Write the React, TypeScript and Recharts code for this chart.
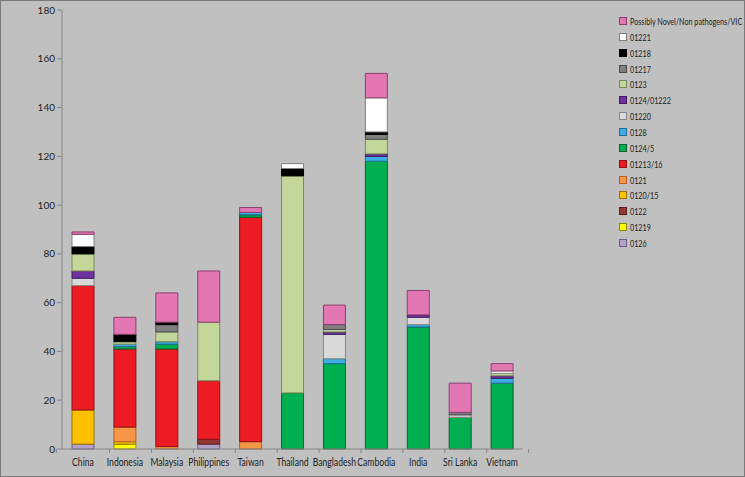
import { BarChart, Bar, XAxis, YAxis, Legend } from "recharts";

const countries = ["China", "Indonesia", "Malaysia", "Philippines", "Taiwan", "Thailand", "Bangladesh", "Cambodia", "India", "Sri Lanka", "Vietnam"];

// series listed bottom of stack -> top of stack
const seriesNames = ["0126", "01219", "0122", "0120/15", "0121", "01213/16", "0124/5", "0128", "01220", "0124/01222", "0123", "01217", "01218", "01221", "Possibly Novel/Non pathogens/VIC"];

const s0126 = [2, 0, 0, 2, 0, 0, 0, 0, 0, 0, 0];
const s01219 = [0, 2, 0, 0, 0, 0, 0, 0, 0, 0, 0];
const s0122 = [0, 0, 0, 2, 0, 0, 0, 0, 0, 0, 0];
const s0120_15 = [14, 1, 0, 0, 0, 0, 0, 0, 0, 0, 0];
const s0121 = [0, 6, 1, 0, 3, 0, 0, 0, 0, 0, 0];
const s01213_16 = [51, 32, 40, 24, 92, 0, 0, 0, 0, 0, 0];
const s0124_5 = [0, 1, 2, 0, 1, 23, 35, 118, 50, 13, 27];
const s0128 = [0, 1, 1, 0, 1, 0, 2, 2, 1, 0, 2];
const s01220 = [3, 0, 0, 0, 0, 0, 10, 0, 3, 1, 0];
const s0124_01222 = [3, 0, 0, 0, 0, 0, 1, 1, 1, 0, 1];
const s0123 = [7, 1, 4, 24, 0, 89, 1, 6, 0, 0, 1];
const s01217 = [0, 0, 3, 0, 0, 0, 2, 2, 0, 1, 0];
const s01218 = [3, 3, 1, 0, 0, 3, 0, 1, 0, 0, 0];
const s01221 = [5, 0, 0, 0, 0, 2, 0, 14, 0, 0, 1];
const sNovel = [1, 7, 12, 21, 2, 0, 8, 10, 10, 12, 3];

const yTicks = [0, 20, 40, 60, 80, 100, 120, 140, 160, 180];

const seriesValues = [s0126, s01219, s0122, s0120_15, s0121, s01213_16, s0124_5, s0128, s01220, s0124_01222, s0123, s01217, s01218, s01221, sNovel];

const fills = ["#B3A2C7", "#FFFF00", "#953735", "#FFC000", "#F79646", "#ED1C24", "#00B050", "#3BAEE3", "#D9D9D9", "#7030A0", "#C4D79B", "#808080", "#000000", "#FFFFFF", "#E377B4"];
const strokes = ["#6E5A8A", "#8A8A00", "#5A1F1E", "#9A7400", "#B0601E", "#8E1015", "#0D5E30", "#1F6E96", "#888888", "#3F1A5E", "#7A8A5A", "#4A4A4A", "#000000", "#7F7F7F", "#8A3F6E"];

const data = countries.map((name, i) => {
    const row: any = { name };
    seriesNames.forEach((s, k) => { row[s] = seriesValues[k][i]; });
    return row;
});

const font = "Lato, 'Open Sans', sans-serif";

const CountryTick = ({ x, y, payload, index }: any) => {
    const half = 26.6;
    return (
        <g>
            {index === 0 && <line x1={x - half} x2={x - half} y1={y - 8} y2={y - 4} stroke="#868686" />}
            <line x1={x + half} x2={x + half} y1={y - 8} y2={y - 4} stroke="#868686" />
            <text transform={`translate(${x},${y + 9}) scale(0.82,1)`} textAnchor="middle" fontSize={10.5} fill="#222" fontFamily={font}>{payload.value}</text>
        </g>
    );
};

const LegendBox = () => {
    const order = seriesNames.map((s, k) => k).reverse();
    return (
        <div style={{ fontFamily: font, fontSize: 10, color: "#222", whiteSpace: "nowrap" }}>
            {order.map(k => (
                <div key={seriesNames[k]} style={{ display: "flex", alignItems: "center", height: 15.86 }}>
                    <span style={{ display: "inline-block", flexShrink: 0, width: 6, height: 6, background: fills[k], border: `1px solid ${strokes[k]}`, marginRight: 3 }} />
                    <span style={{ display: "inline-block", transform: "scaleX(0.72)", transformOrigin: "left center" }}>{seriesNames[k]}</span>
                </div>
            ))}
        </div>
    );
};

export default function App() {
    return (
        <div style={{ position: "fixed", left: 0, top: 0, width: 745, height: 477, background: "#C0C0C0" }}>
            <BarChart width={745} height={477} data={data} margin={{ top: 10, right: 97, left: 0, bottom: 0 }} barSize={22}>
                <XAxis dataKey="name" height={28} axisLine={{ stroke: "#868686" }} tickLine={false} tick={<CountryTick />} interval={0} />
                <YAxis domain={[0, 180]} ticks={yTicks} width={62} axisLine={{ stroke: "#868686" }} tickLine={{ stroke: "#868686" }} tickSize={5} tick={{ fontSize: 10, fill: "#222", fontFamily: font }} />
                <Legend content={<LegendBox />} layout="vertical" verticalAlign="top" align="right" wrapperStyle={{ top: 13, left: 619, width: 125, overflow: "hidden" }} />
                {seriesNames.map((s, k) => (
                    <Bar key={s} dataKey={s} stackId="a" fill={fills[k]} stroke={strokes[k]} strokeWidth={1} isAnimationActive={false} />
                ))}
            </BarChart>
            <div style={{ position: "absolute", left: 0, top: 0, width: 743, height: 475, border: "1px solid #7A7A7A", pointerEvents: "none" }} />
        </div>
    );
}
